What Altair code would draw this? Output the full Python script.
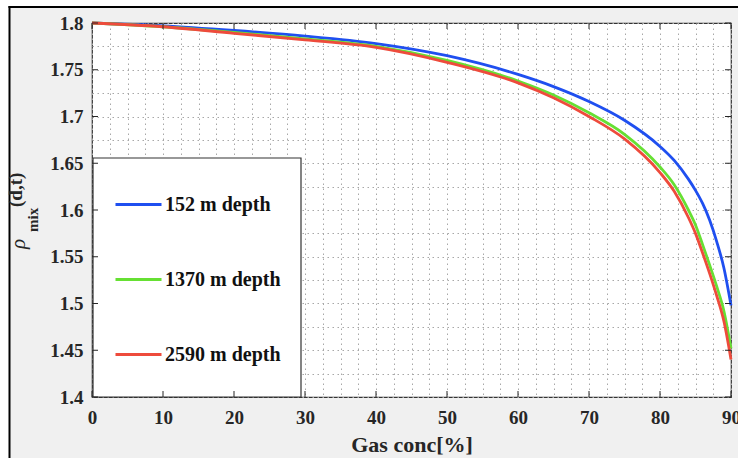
import altair as alt
import pandas as pd

# ---- data ----
conc = [0, 10, 20, 30, 40, 50, 60, 65, 70, 75, 80, 82, 84, 85, 86, 87, 88, 89, 90]
rho_152 = [1.800, 1.797, 1.792, 1.786, 1.778, 1.765, 1.745, 1.732, 1.716, 1.696,
           1.668, 1.653, 1.633, 1.621, 1.607, 1.589, 1.566, 1.538, 1.498]
rho_1370 = [1.800, 1.796, 1.790, 1.783, 1.775, 1.760, 1.738, 1.723, 1.704, 1.681,
            1.646, 1.627, 1.600, 1.584, 1.563, 1.541, 1.518, 1.492, 1.452]
rho_2590 = [1.800, 1.796, 1.789, 1.782, 1.774, 1.758, 1.736, 1.720, 1.700, 1.676,
            1.640, 1.620, 1.592, 1.575, 1.554, 1.532, 1.508, 1.481, 1.440]
series_names = ["152 m depth", "1370 m depth", "2590 m depth"]
series_colors = ["#1f4ff0", "#66e033", "#ee4b3c"]

x_major = [0, 10, 20, 30, 40, 50, 60, 70, 80, 90]
x_minor = [i * 2.5 for i in range(37)]
y_major = [1.4, 1.45, 1.5, 1.55, 1.6, 1.65, 1.7, 1.75, 1.8]
y_minor = [round(1.4 + 0.025 * i, 3) for i in range(17)]

rows = []
for name, vals in zip(series_names, [rho_152, rho_1370, rho_2590]):
    for c, v in zip(conc, vals):
        rows.append({"conc": c, "rho": v, "depth": name})
df = pd.DataFrame(rows)

W, H = 639, 374
FONT = "Liberation Serif"
TXT = "#262626"

X_AXIS = alt.Axis(values=x_minor, ticks=False, domain=False, grid=True,
                  gridDash=[1.5, 3.5], gridColor="#a8a8a8", gridWidth=1,
                  labelExpr="datum.value % 10 == 0 ? format(datum.value, 'd') : ''",
                  labelOverlap=False, labelFlush=False, labelPadding=11,
                  labelFont=FONT, labelFontWeight="bold", labelFontSize=19, labelColor=TXT,
                  title="Gas conc[%]", titleFont=FONT, titleFontWeight="bold",
                  titleFontSize=22, titleColor=TXT, titlePadding=7)
Y_AXIS = alt.Axis(values=y_minor, ticks=False, domain=False, grid=True,
                  gridDash=[1.5, 3.5], gridColor="#a8a8a8", gridWidth=1,
                  labelExpr="abs(round(datum.value * 20) - datum.value * 20) < 0.001 ? format(datum.value, '~g') : ''",
                  labelOverlap=False, labelFlush=False, labelPadding=9,
                  labelFont=FONT, labelFontWeight="bold", labelFontSize=19, labelColor=TXT,
                  title="")

xs = alt.Scale(domain=[0, 90], nice=False, zero=False)
ys = alt.Scale(domain=[1.4, 1.8], nice=False, zero=False)

lines = alt.Chart(df).mark_line(strokeWidth=2.8, interpolate="monotone").encode(
    x=alt.X("conc:Q", scale=xs, axis=X_AXIS),
    y=alt.Y("rho:Q", scale=ys, axis=Y_AXIS),
    color=alt.Color("depth:N", title=None,
                    scale=alt.Scale(domain=series_names, range=series_colors),
                    sort=series_names,
                    legend=alt.Legend(orient="none", legendX=0, legendY=135,
                                      padding=22, symbolType="stroke",
                                      symbolSize=2116, symbolStrokeWidth=3,
                                      rowPadding=40, labelOffset=2,
                                      labelFont=FONT, labelFontWeight="bold",
                                      labelFontSize=20, labelColor="#111111",
                                      labelLimit=300)),
    order=alt.Order("conc:Q"),
)

xdf = pd.DataFrame({"v": x_major})
ydf = pd.DataFrame({"v": y_major})
tick_style = dict(color=TXT, strokeWidth=1)
xt_bottom = alt.Chart(xdf).mark_rule(**tick_style).encode(
    x=alt.X("v:Q", scale=xs, axis=X_AXIS), y=alt.value(H), y2=alt.value(H - 6))
xt_top = alt.Chart(xdf).mark_rule(**tick_style).encode(
    x=alt.X("v:Q", scale=xs, axis=X_AXIS), y=alt.value(0), y2=alt.value(6))
yt_left = alt.Chart(ydf).mark_rule(**tick_style).encode(
    y=alt.Y("v:Q", scale=ys, axis=Y_AXIS), x=alt.value(0), x2=alt.value(6))
yt_right = alt.Chart(ydf).mark_rule(**tick_style).encode(
    y=alt.Y("v:Q", scale=ys, axis=Y_AXIS), x=alt.value(W), x2=alt.value(W - 6))

one = pd.DataFrame({"a": [0]})
strip_top = alt.Chart(one).mark_rect(color="white").encode(
    x=alt.value(-92), x2=alt.value(W + 10), y=alt.value(-23), y2=alt.value(-16))
strip_left = alt.Chart(one).mark_rect(color="white").encode(
    x=alt.value(-92), x2=alt.value(-82.5), y=alt.value(-23), y2=alt.value(H + 70))
line_top = alt.Chart(one).mark_rule(color="black", strokeWidth=2).encode(
    x=alt.value(-83.5), x2=alt.value(W + 10), y=alt.value(-16))
line_left = alt.Chart(one).mark_rule(color="black", strokeWidth=2).encode(
    x=alt.value(-82.5), y=alt.value(-17), y2=alt.value(H + 70))

legend_box = alt.Chart(one).mark_rect(fill="white", stroke="#333333", strokeWidth=1.2).encode(
    x=alt.value(1), x2=alt.value(209), y=alt.value(135), y2=alt.value(H))

t_rho = alt.Chart(one).mark_text(text="ρ", font=FONT, fontStyle="italic", fontSize=21,
                                 angle=270, align="left", baseline="alphabetic",
                                 color=TXT).encode(x=alt.value(-67), y=alt.value(226))
t_mix = alt.Chart(one).mark_text(text="mix", font=FONT, fontWeight="bold", fontSize=15,
                                 angle=270, align="left", baseline="alphabetic",
                                 color=TXT).encode(x=alt.value(-54), y=alt.value(209))
t_dt = alt.Chart(one).mark_text(text="(d,t)", font=FONT, fontWeight="bold", fontSize=19,
                                angle=270, align="left", baseline="alphabetic",
                                color=TXT).encode(x=alt.value(-70), y=alt.value(184))

chart = alt.layer(
    strip_top, strip_left, line_top, line_left,
    lines, legend_box, xt_bottom, xt_top, yt_left, yt_right,
    t_rho, t_mix, t_dt,
).properties(
    width=W, height=H,
    autosize=alt.AutoSizeParams(type="none"),
    padding={"left": 92, "top": 23, "right": 7, "bottom": 61},
    background="#f0f0f0",
).configure_view(fill="white", stroke="#333333", strokeWidth=1.2)

chart.save("out.html", embed_options={"renderer": "svg", "actions": False})
